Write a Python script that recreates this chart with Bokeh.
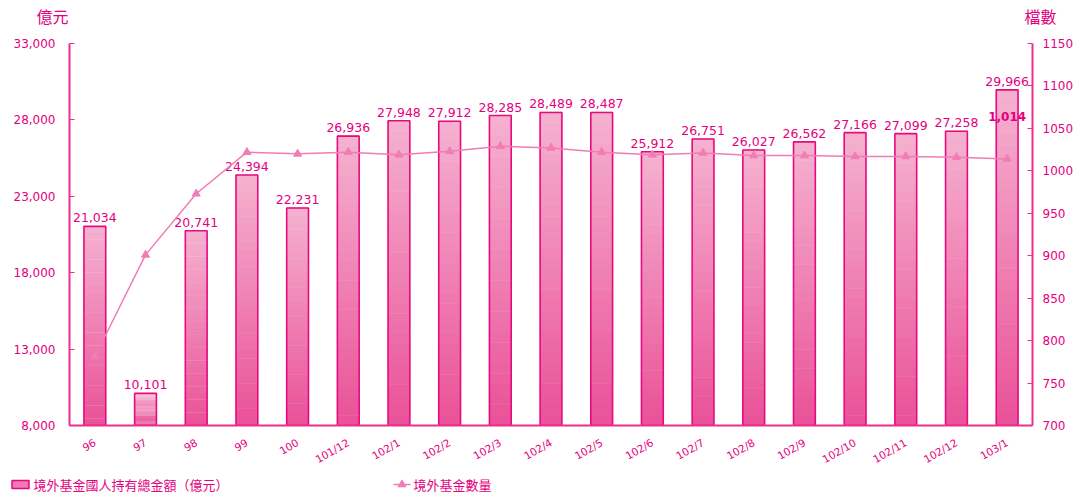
from bokeh.plotting import figure
from bokeh.layouts import column
from bokeh.models import (FactorRange, Range1d, LinearAxis, FixedTicker, NumeralTickFormatter)
from bokeh.core.properties import value
from bokeh.embed import file_html
from bokeh.resources import INLINE
import math

# ---- data ----
categories = ["96", "97", "98", "99", "100", "101/12", "102/1", "102/2", "102/3", "102/4",
              "102/5", "102/6", "102/7", "102/8", "102/9", "102/10", "102/11", "102/12", "103/1"]
amount = [21034, 10101, 20741, 24394, 22231, 26936, 27948, 27912, 28285, 28489,
          28487, 25912, 26751, 26027, 26562, 27166, 27099, 27258, 29966]
fund_count = [781, 901, 973, 1022, 1020, 1022, 1019, 1023, 1029, 1027,
              1022, 1019, 1021, 1018, 1018, 1017, 1017, 1016, 1014]
left_ticks = [8000, 13000, 18000, 23000, 28000, 33000]
right_ticks = [700, 750, 800, 850, 900, 950, 1000, 1050, 1100, 1150]
left_unit = "億元"
right_unit = "檔數"
bar_name = "境外基金國人持有總金額（億元）"
line_name = "境外基金數量"

MAG = "#e4007f"
AXIS = "#ec2f8e"
LINE = "#f07db5"
BASE = 8000
W = 1077
FL, FR = 69, 1032   # frame left/right in page pixels (shared by the stacked figures)


def blank(h):
    f = figure(width=W, height=h, x_range=Range1d(FL, FR), y_range=Range1d(h, 0),
               output_backend="svg", toolbar_location=None, x_axis_type=None, y_axis_type=None,
               min_border=0, min_border_left=FL, min_border_right=W - FR, min_border_top=0,
               min_border_bottom=0)
    f.outline_line_color = None
    f.grid.visible = False
    return f


# ---- header strip ----
head = blank(33)
head.text(x=[52, 1040], y=[15, 15], text=[left_unit, right_unit], text_align="center",
          text_baseline="middle", text_color=MAG, text_font=value("Noto Sans CJK TC"),
          text_font_size="16px", level="overlay")

# ---- main chart ----
p = figure(x_range=FactorRange(factors=categories, range_padding=0),
           y_range=Range1d(8000, 33000),
           width=W, height=440, output_backend="svg", toolbar_location=None,
           min_border_left=FL, min_border_right=W - FR, min_border_top=10, min_border_bottom=48)
p.outline_line_color = None
p.xgrid.visible = False
p.ygrid.visible = False
p.extra_y_ranges = {"right": Range1d(700, 1150)}


def mix(c1, c2, t):
    a = [int(c1[i:i + 2], 16) for i in (1, 3, 5)]
    b = [int(c2[i:i + 2], 16) for i in (1, 3, 5)]
    return "#%02x%02x%02x" % tuple(round(a[j] + (b[j] - a[j]) * t) for j in range(3))


BOTTOM_C = "#ea5198"
TOP_C = "#f5b2d0"
N = 30
bx, bb, bt, bc = [], [], [], []
for c, v in zip(categories, amount):
    for k in range(N):
        bx.append(c)
        bb.append(BASE + (v - BASE) * k / N)
        bt.append(BASE + (v - BASE) * (k + 1) / N + (v - BASE) * 0.002)
        bc.append(mix(BOTTOM_C, TOP_C, (k + 0.5) / N))
p.vbar(x=bx, bottom=bb, top=bt, width=0.43, fill_color=bc, line_color=None)
p.vbar(x=categories, bottom=BASE, top=amount, width=0.43, fill_alpha=0,
       line_color="#e8087f", line_width=1.6)

p.text(x=categories, y=amount, text=[f"{v:,}" for v in amount], text_align="center",
       text_baseline="bottom", y_offset=-4, text_color=MAG, text_font=value("DejaVu Sans"),
       text_font_size="12.5px")

p.line(x=categories, y=fund_count, y_range_name="right", line_color=LINE, line_width=1.5)
p.scatter(x=categories, y=fund_count, y_range_name="right", marker="triangle", size=8,
          fill_color=LINE, line_color=LINE)
p.text(x=[categories[-1]], y=[fund_count[-1]], text=[f"{fund_count[-1]:,}"], y_range_name="right",
       text_align="center", text_baseline="bottom", y_offset=-38, text_color=MAG,
       text_font=value("DejaVu Sans"), text_font_size="12px", text_font_style="bold")

ya = p.yaxis[0]
ya.ticker = FixedTicker(ticks=left_ticks)
ya.formatter = NumeralTickFormatter(format="0,0")
xa = p.xaxis[0]
for ax in (ya, xa):
    ax.axis_line_color = AXIS
    ax.axis_line_width = 2
    ax.major_label_text_color = MAG
    ax.major_label_text_font = "DejaVu Sans"
    ax.minor_tick_line_color = None
ya.major_tick_in = 5
ya.major_tick_out = 0
ya.major_tick_line_color = AXIS
ya.major_label_text_font_size = "12px"
ya.major_label_standoff = 14
xa.major_tick_line_color = None
xa.major_label_orientation = math.pi / 6
xa.major_label_text_font_size = "10.5px"
xa.major_label_standoff = 10

ra = LinearAxis(y_range_name="right", ticker=FixedTicker(ticks=right_ticks))
ra.axis_line_color = AXIS
ra.axis_line_width = 2
ra.major_tick_in = 5
ra.major_tick_out = 0
ra.major_tick_line_color = AXIS
ra.minor_tick_line_color = None
ra.major_label_text_color = MAG
ra.major_label_text_font = "DejaVu Sans"
ra.major_label_text_font_size = "12px"
ra.major_label_standoff = 10
p.add_layout(ra, "right")

# ---- legend strip ----
leg = blank(21)
leg.rect(x=[20], y=[11], width=17, height=8, fill_color="#f07ab3", line_color="#e8087f",
         line_width=1.5, level="overlay")
leg.line(x=[393, 410], y=[11, 11], line_color=LINE, line_width=1.5, level="overlay")
leg.scatter(x=[401.5], y=[11], marker="triangle", size=8, fill_color=LINE, line_color=LINE,
            level="overlay")
leg.text(x=[33, 413], y=[11, 11], text=[bar_name, line_name], text_align="left",
         text_baseline="middle", text_color=MAG, text_font=value("Noto Sans CJK TC"),
         text_font_size="13px", level="overlay")

layout = column(head, p, leg, spacing=0)
open("out.html", "w").write(file_html(layout, INLINE))
